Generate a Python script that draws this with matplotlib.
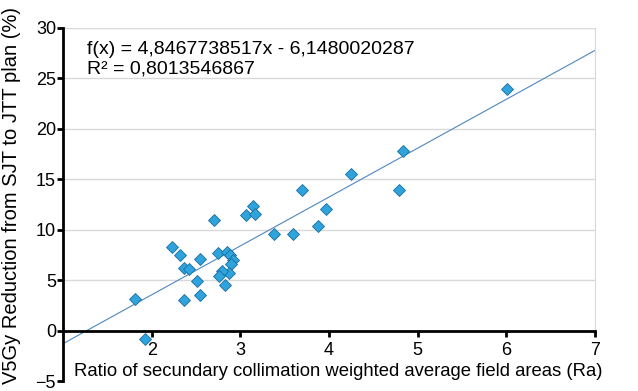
import numpy as np
import matplotlib.pyplot as plt

plt.rcParams['font.family'] = ['Liberation Sans', 'DejaVu Sans']

# ratio Ra vs V5Gy reduction (%)
ra = [1.81, 1.92, 2.23, 2.32, 2.36, 2.42, 2.37, 2.51, 2.54, 2.55,
      2.70, 2.75, 2.85, 2.88, 2.92, 2.89, 2.87, 2.79, 2.76, 2.83,
      3.06, 3.14, 3.17, 3.38, 3.59, 3.70, 3.88, 3.97, 4.25, 4.79,
      4.83, 6.01]
v5gy = [3.1, -0.8, 8.3, 7.5, 6.2, 6.1, 3.0, 4.9, 3.5, 7.1,
        11.0, 7.7, 7.8, 7.5, 7.0, 6.6, 5.7, 5.9, 5.4, 4.5,
        11.5, 12.4, 11.6, 9.6, 9.6, 13.9, 10.4, 12.1, 15.5, 13.9,
        17.8, 24.0]

slope = 4.8467738517
intercept = -6.1480020287

fig = plt.figure(figsize=(6.38, 3.91), dpi=100)
ax = fig.add_axes([63/638, 1-381/391, (595-63)/638, (381-28)/391])

xx = np.array([1, 7])
ax.plot(xx, slope*xx + intercept, color='#4f86c0', lw=0.8, zorder=2)
ax.plot(ra, v5gy, 'D', ms=6.3, mfc='#2ea3dc', mec='#1a6e9e', mew=0.6, zorder=3)

ax.set_xlim(1, 7)
ax.set_ylim(-5, 30)
ax.set_xticks([2, 3, 4, 5, 6, 7])
ax.set_yticks(range(-5, 31, 5))

for y in range(5, 31, 5):
    ax.axhline(y, color='#d9d9d9', lw=1, zorder=0)

ax.spines['bottom'].set_position(('data', 0))
ax.spines['bottom'].set_linewidth(2)
ax.spines['left'].set_linewidth(2)
ax.spines['top'].set_visible(False)
ax.spines['right'].set_color('#d9d9d9')
ax.spines['right'].set_bounds(0, 30)
ax.tick_params(axis='both', direction='out', length=4, width=2, labelsize=13)
ax.tick_params(axis='x', pad=4)
ax.tick_params(axis='y', pad=1)

ax.text(1.27, 26.9, 'f(x) = 4,8467738517x - 6,1480020287\nR² = 0,8013546867',
        fontsize=14, va='center', ha='left', linespacing=1.2)

ax.text(1.12, -4.1, 'Ratio of secundary collimation weighted average field areas (Ra)',
        fontsize=13.3, va='center', ha='left')
fig.text(12/638, 1-195/391, 'V5Gy Reduction from SJT to JTT plan (%)',
         fontsize=14.5, rotation=90, va='center', ha='center')

fig.savefig('out.png')
